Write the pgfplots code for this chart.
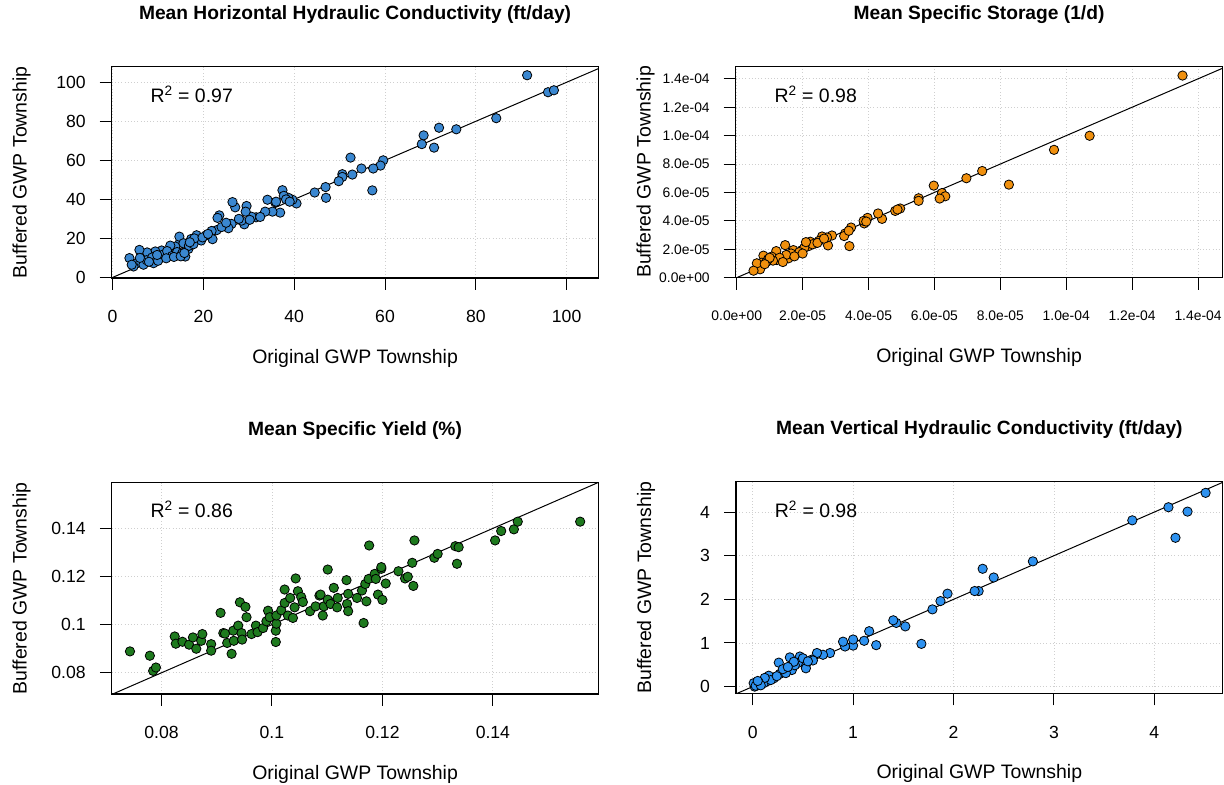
\documentclass[border=0pt]{standalone}
\usepackage{fontspec}
\setmainfont{Liberation Sans}
\usepackage{pgfplots}
\pgfplotsset{compat=1.18}
\definecolor{hkblue}{HTML}{3A87D0}
\definecolor{ssorange}{HTML}{F0900E}
\definecolor{sygreen}{HTML}{1E7A1E}
\definecolor{vkblue}{HTML}{2E92F0}
\definecolor{gridgray}{HTML}{CFCFCF}

\pgfplotsset{
  gwp/.style={
    scale only axis, width=365pt, height=158.5pt,
    axis line style={line width=0.8pt},
    tick align=outside, major tick length=9pt,
    tick style={black, line width=0.75pt},
    xtick pos=bottom, ytick pos=left,
    scaled ticks=false,
    grid=major, grid style={gridgray, dotted, line width=0.6pt},
    tick label style={font=\fontsize{13.2}{15}\selectfont},
    xticklabel style={yshift=-12pt},
    yticklabel style={xshift=-7pt},
    label style={font=\fontsize{14.6}{17}\selectfont},
    title style={font=\bfseries\fontsize{14.4}{17}\selectfont,
      at={(axis description cs:0.5,1.208)}, anchor=center},
    xlabel style={at={(axis description cs:0.5,-0.379)}, anchor=center},
    ylabel style={at={(axis description cs:-0.185,0.5)}, anchor=center},
    xlabel={Original GWP Township}, ylabel={Buffered GWP Township},
  },
  pts/.style={only marks, mark=*, mark size=3.5pt,
    mark options={draw=black, fill=#1, line width=0.6pt}},
  oneline/.style={black, line width=0.75pt, no marks},
}

\begin{document}
\begin{tikzpicture}
\useasboundingbox (0,0) rectangle (918pt,588.75pt);

% horizontal K
\begin{axis}[gwp, at={(83.8pt,380.25pt)}, anchor=south west,
  title={Mean Horizontal Hydraulic Conductivity (ft/day)},
  xmin=-0.2, xmax=107, ymin=-0.3, ymax=108,
  xtick={0,20,40,60,80,100}, xticklabels={0,20,40,60,80,100},
  ytick={0,20,40,60,80,100}, yticklabels={0,20,40,60,80,100}]
\addplot[oneline] coordinates {(-10,-10) (200,200)};
\addplot[pts=hkblue] coordinates {
 (91.3,103.6) (95.9,94.9) (97.2,95.9) (84.5,81.6) (75.7,75.9) (71.9,76.7)
 (68.5,72.8) (68.1,68.3) (70.8,66.5) (59.6,60.0) (59.0,57.3) (57.4,55.8)
 (57.2,44.6) (54.8,55.8) (52.8,52.7) (52.4,61.4) (50.6,52.9) (50.6,51.5)
 (49.8,49.3) (46.9,46.3) (47.0,40.8) (44.5,43.5) (40.5,37.9) (39.6,39.8)
 (38.7,40.8) (37.4,44.7) (37.7,41.8) (36.9,33.2) (35.2,33.7) (35.8,38.5)
 (34.1,39.8) (33.6,33.7) (31.6,30.8) (30.6,31.1) (29.5,36.6) (29.3,33.7)
 (29.0,27.2) (28.4,29.1) (27.0,35.9) (26.4,38.6) (26.2,27.4) (25.5,25.2)
 (23.5,31.8) (23.1,30.5) (22.9,24.2) (21.8,23.8) (22.0,19.6) (20.6,21.6)
 (19.5,18.9) (18.5,21.6) (17.3,19.7) (16.7,14.6) (16.3,15.8) (16.0,10.7)
 (14.9,18.4) (14.7,20.9) (13.8,15.8) (12.7,16.3) (12.3,12.4) (10.8,13.8)
 (9.4,13.3) (9.0,7.3) (8.3,10.7) (7.6,12.8) (6.5,9.0) (5.9,14.1)
 (5.4,7.3) (4.6,5.6) (3.7,9.9) (4.2,6.5)
 (6.8,6.5) (7.5,8.8) (8.7,10.2) (10.2,9.5) (11.2,11.8) (12.0,13.5)
 (13.1,11.0) (14.2,13.0) (15.3,12.3) (15.6,17.5) (16.8,16.2) (17.8,17.0)
 (18.0,20.0) (19.8,20.5) (21.0,22.3) (24.0,25.8) (25.0,28.0) (27.8,30.0)
 (30.2,29.5) (32.5,31.0) (36.0,38.8) (38.2,40.0) (39.0,38.8) (10.0,8.5)
 (11.8,9.8) (13.5,10.5) (6.0,10.0) (8.0,8.0) (9.8,11.5) (15.0,10.8)
 (15.8,12.5) (17.0,18.0)};
\node[anchor=west, font=\fontsize{14.6}{17}\selectfont] at (axis description cs:0.07,0.868) {R\textsuperscript{2} = 0.97};
\end{axis}

% specific storage
\begin{axis}[gwp, at={(551.8pt,380.5pt)}, anchor=south west,
  title={Mean Specific Storage (1/d)},
  xmin=-0.03e-5, xmax=14.74e-5, ymin=0, ymax=14.88e-5,
  tick label style={font=\fontsize{10.4}{12}\selectfont},
  xtick={0,2e-5,4e-5,6e-5,8e-5,10e-5,12e-5,14e-5},
  xticklabels={0.0e+00,2.0e-05,4.0e-05,6.0e-05,8.0e-05,1.0e-04,1.2e-04,1.4e-04},
  ytick={0,2e-5,4e-5,6e-5,8e-5,10e-5,12e-5,14e-5},
  yticklabels={0.0e+00,2.0e-05,4.0e-05,6.0e-05,8.0e-05,1.0e-04,1.2e-04,1.4e-04}]
\addplot[oneline] coordinates {(-1e-5,-1e-5) (20e-5,20e-5)};
\addplot[pts=ssorange] coordinates {
 (13.53e-5,14.23e-5) (10.71e-5,9.99e-5) (9.63e-5,9.00e-5) (8.26e-5,6.55e-5)
 (7.45e-5,7.51e-5) (6.97e-5,7.00e-5) (5.98e-5,6.48e-5) (6.23e-5,5.96e-5)
 (6.33e-5,5.73e-5) (6.16e-5,5.57e-5) (5.52e-5,5.59e-5) (5.52e-5,5.41e-5)
 (4.96e-5,4.87e-5) (4.81e-5,4.70e-5) (4.88e-5,4.80e-5) (4.41e-5,4.14e-5)
 (4.29e-5,4.52e-5) (3.97e-5,4.21e-5) (3.87e-5,3.82e-5) (3.85e-5,4.00e-5)
 (3.47e-5,3.53e-5) (3.42e-5,2.22e-5) (3.29e-5,3.11e-5) (3.26e-5,2.93e-5)
 (2.89e-5,2.97e-5) (2.77e-5,2.27e-5) (2.74e-5,2.83e-5) (2.59e-5,2.90e-5)
 (2.38e-5,2.41e-5) (2.23e-5,2.53e-5) (2.18e-5,2.22e-5) (1.98e-5,1.94e-5)
 (1.82e-5,1.71e-5) (1.72e-5,1.94e-5) (1.47e-5,2.29e-5) (1.57e-5,1.36e-5)
 (1.37e-5,1.29e-5) (1.20e-5,1.87e-5) (1.22e-5,1.24e-5) (1.06e-5,1.48e-5)
 (0.81e-5,1.55e-5) (0.76e-5,1.05e-5) (0.71e-5,0.59e-5) (0.61e-5,1.01e-5)
 (0.51e-5,0.49e-5)
 (2.50e-5,2.60e-5) (2.30e-5,2.35e-5) (2.05e-5,2.10e-5) (1.90e-5,1.80e-5)
 (1.65e-5,1.70e-5) (1.50e-5,1.60e-5) (1.30e-5,1.40e-5) (1.10e-5,1.20e-5)
 (0.95e-5,1.30e-5) (0.90e-5,1.10e-5) (2.10e-5,2.50e-5) (2.45e-5,2.45e-5)
 (2.65e-5,2.75e-5) (1.75e-5,1.50e-5) (1.00e-5,1.40e-5) (0.85e-5,0.95e-5)
 (1.40e-5,1.10e-5) (2.00e-5,1.70e-5) (3.40e-5,3.30e-5) (3.93e-5,3.95e-5)};
\node[anchor=west, font=\fontsize{14.6}{17}\selectfont] at (axis description cs:0.07,0.868) {R\textsuperscript{2} = 0.98};
\end{axis}

% specific yield
\begin{axis}[gwp, at={(83.8pt,68.25pt)}, anchor=south west,
  title={Mean Specific Yield (\%)},
  xmin=0.071, xmax=0.1591, ymin=0.0712, ymax=0.159,
  xtick={0.08,0.1,0.12,0.14}, xticklabels={0.08,0.1,0.12,0.14},
  ytick={0.08,0.1,0.12,0.14}, yticklabels={0.08,0.1,0.12,0.14}]
\addplot[oneline] coordinates {(0,0) (1,1)};
\addplot[pts=sygreen] coordinates {
 (0.0743,0.0889) (0.0779,0.0871) (0.0785,0.0808) (0.0790,0.0822) (0.0824,0.0951)
 (0.0826,0.0921) (0.0838,0.0929) (0.0850,0.0917) (0.0857,0.0947) (0.0863,0.0900)
 (0.0872,0.0933) (0.0874,0.0961) (0.0890,0.0919) (0.0890,0.0892) (0.0907,0.1049)
 (0.0912,0.0965) (0.0915,0.0963) (0.0919,0.0924) (0.0927,0.0879) (0.0930,0.0975)
 (0.0931,0.0933) (0.0939,0.0996) (0.0942,0.1093) (0.0945,0.0965) (0.0946,0.0938)
 (0.0952,0.1074) (0.0954,0.1031) (0.0963,0.0961) (0.0971,0.0996) (0.0974,0.0969)
 (0.0984,0.0986) (0.0990,0.1014) (0.0993,0.1058) (0.0996,0.1031) (0.1007,0.0975)
 (0.1007,0.0928) (0.1008,0.1004) (0.1008,0.1038) (0.1017,0.1060) (0.1023,0.1146)
 (0.1023,0.1090) (0.1029,0.1038) (0.1033,0.1111) (0.1038,0.1028) (0.1041,0.1072)
 (0.1043,0.1192) (0.1047,0.1139) (0.1053,0.1115) (0.1056,0.1094) (0.1069,0.1056)
 (0.1079,0.1076) (0.1086,0.1121) (0.1088,0.1125) (0.1092,0.1038) (0.1094,0.1076)
 (0.1101,0.1229) (0.1101,0.1104) (0.1106,0.1086) (0.1112,0.1153) (0.1118,0.1072)
 (0.1119,0.1111) (0.1135,0.1185) (0.1136,0.1086) (0.1138,0.1128) (0.1138,0.1056)
 (0.1154,0.1111) (0.1163,0.1142) (0.1166,0.1007) (0.1169,0.1169) (0.1171,0.1097)
 (0.1175,0.1190) (0.1176,0.1329) (0.1186,0.1211) (0.1188,0.1190) (0.1192,0.1125)
 (0.1198,0.1232) (0.1198,0.1239) (0.1200,0.1103) (0.1206,0.1171) (0.1229,0.1222)
 (0.1241,0.1192) (0.1246,0.1199) (0.1254,0.1257) (0.1256,0.1161) (0.1258,0.1350)
 (0.1294,0.1278) (0.1300,0.1294) (0.1332,0.1326) (0.1338,0.1322) (0.1335,0.1253)
 (0.1404,0.1350) (0.1415,0.1389) (0.1438,0.1396) (0.1445,0.1428) (0.1558,0.1428)};
\node[anchor=west, font=\fontsize{14.6}{17}\selectfont] at (axis description cs:0.07,0.872) {R\textsuperscript{2} = 0.86};
\end{axis}

% vertical K
\begin{axis}[gwp, at={(552pt,68.8pt)}, anchor=south west,
  title={Mean Vertical Hydraulic Conductivity (ft/day)},
  xmin=-0.166, xmax=4.68, ymin=-0.152, ymax=4.69,
  xtick={0,1,2,3,4}, xticklabels={0,1,2,3,4},
  ytick={0,1,2,3,4}, yticklabels={0,1,2,3,4}]
\addplot[oneline] coordinates {(-1,-1) (10,10)};
\addplot[pts=vkblue] coordinates {
 (4.51,4.44) (4.14,4.11) (4.33,4.01) (4.21,3.41) (3.78,3.81) (2.79,2.87)
 (2.29,2.70) (2.40,2.50) (2.25,2.19) (2.21,2.19) (1.94,2.13) (1.87,1.96)
 (1.79,1.77) (1.68,0.98) (1.52,1.38) (1.43,1.46) (1.40,1.52) (1.23,0.95)
 (1.16,1.27) (1.11,1.05) (1.00,0.94) (1.00,1.08) (0.92,0.92) (0.90,1.03)
 (0.77,0.77) (0.70,0.73) (0.64,0.77) (0.59,0.62) (0.53,0.50) (0.53,0.42)
 (0.47,0.69) (0.45,0.54) (0.37,0.67) (0.39,0.38) (0.26,0.55) (0.27,0.29)
 (0.33,0.31) (0.21,0.19) (0.16,0.25) (0.14,0.12) (0.09,0.12) (0.04,0.04)
 (0.02,0.00) (0.01,0.08) (0.07,0.05) (0.11,0.08) (0.18,0.15) (0.12,0.20)
 (0.24,0.24) (0.42,0.49) (0.50,0.65) (0.41,0.57) (0.60,0.60) (0.06,0.10)
 (0.03,0.02) (0.08,0.03) (0.05,0.13) (0.30,0.40) (0.35,0.45) (0.55,0.58)};
\node[anchor=west, font=\fontsize{14.6}{17}\selectfont] at (axis description cs:0.07,0.872) {R\textsuperscript{2} = 0.98};
\end{axis}
\end{tikzpicture}
\end{document}
